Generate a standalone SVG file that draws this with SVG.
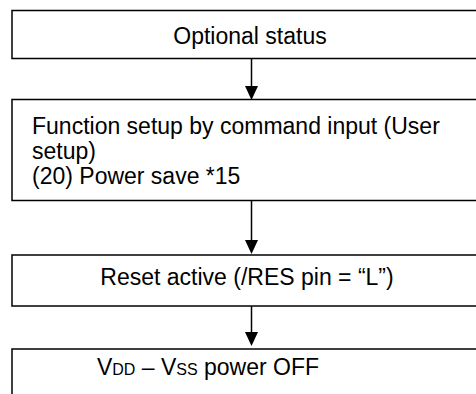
<svg xmlns="http://www.w3.org/2000/svg" width="476" height="394" viewBox="0 0 476 394">
<style>
.box{fill:#fff;stroke:#000;stroke-width:1.5}
.t{font-family:"Liberation Sans",Arial,sans-serif;font-size:23px;fill:#000}
.c{text-anchor:middle}
.line{stroke:#000;stroke-width:1.5;fill:none}
.head{fill:#000}
</style>
<rect width="476" height="394" fill="#fff"/>
<g id="connectors">
<line class="line" x1="251.5" y1="58.5" x2="251.5" y2="86"/>
<polygon class="head" points="245,86 258,86 251.5,100"/>
<line class="line" x1="251.5" y1="200.5" x2="251.5" y2="240"/>
<polygon class="head" points="245,240 258,240 251.5,254"/>
<line class="line" x1="251.5" y1="306" x2="251.5" y2="332"/>
<polygon class="head" points="245,332 258,332 251.5,346"/>
</g>
<g id="n1">
<rect class="box" x="12" y="10.5" width="480" height="48"/>
<text class="t c" x="250" y="44">Optional status</text>
</g>
<g id="n2">
<rect class="box" x="12" y="99.5" width="480" height="101"/>
<text class="t" x="32" y="134">Function setup by command input (User</text>
<text class="t" x="32" y="159">setup)</text>
<text class="t" x="32" y="184">(20) Power save *15</text>
</g>
<g id="n3">
<rect class="box" x="12" y="255" width="480" height="51"/>
<text class="t c" x="247" y="285">Reset active (/RES pin = “L”)</text>
</g>
<g id="n4">
<rect class="box" x="12" y="349" width="480" height="60"/>
<text class="t c" x="208" y="375">V<tspan font-size="16">DD</tspan> – V<tspan font-size="16">SS</tspan> power OFF</text>
</g>
</svg>
